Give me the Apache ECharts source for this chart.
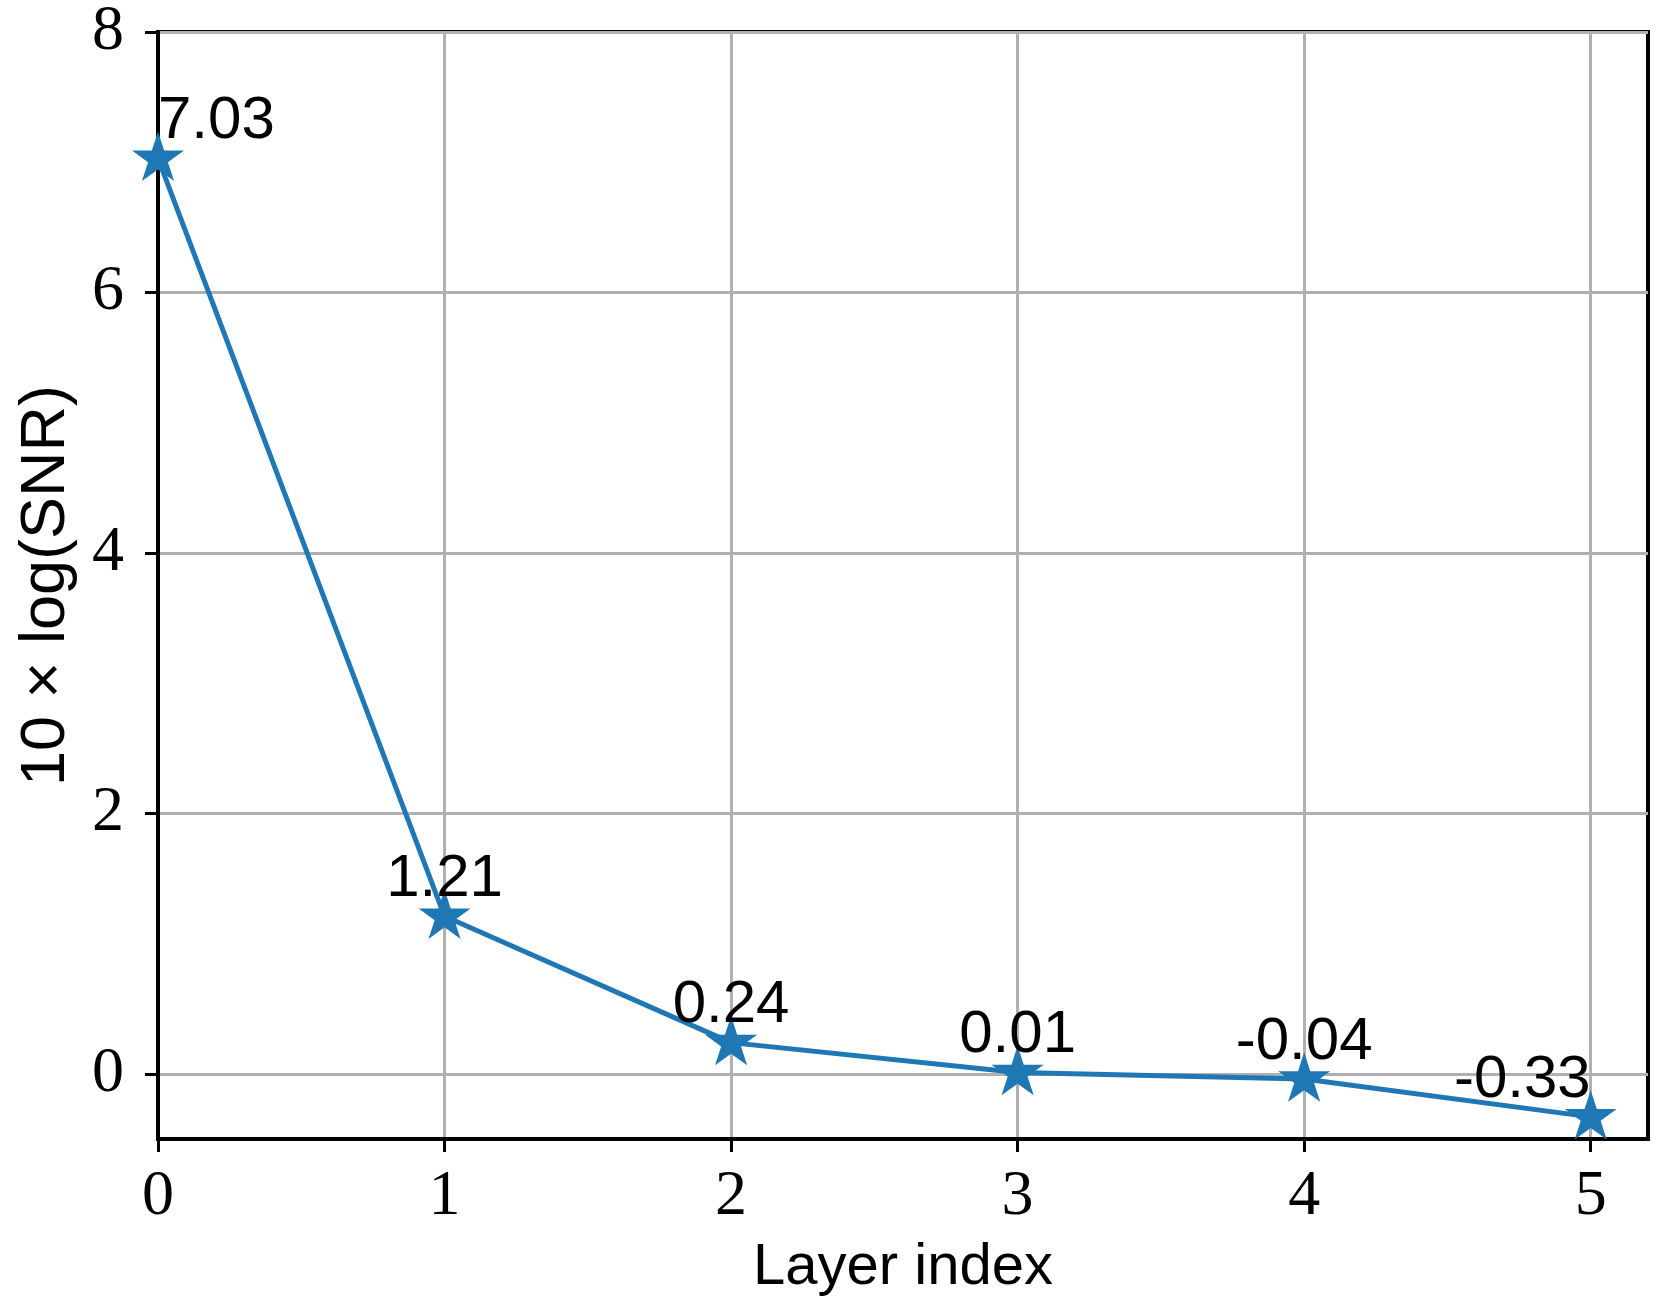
<!DOCTYPE html>
<html>
<head>
<meta charset="utf-8">
<script src="https://cdn.jsdelivr.net/npm/echarts@6/dist/echarts.min.js"></script>
<style>
html,body{margin:0;padding:0;background:#fff;}
#chart{width:1660px;height:1304px;}
</style>
</head>
<body>
<div id="chart"></div>
<script>
const layers = [0, 1, 2, 3, 4, 5];
const snr = [7.03, 1.21, 0.24, 0.01, -0.04, -0.33];
const xTicks = [0, 1, 2, 3, 4, 5];
const yTicks = [0, 2, 4, 6, 8];
const xName = 'Layer index';
const yName = '10 \u00d7 log(SNR)';

const STAR = 'path://M100,0 L122.45,69.1 L195.11,69.1 L136.33,111.8 L158.78,180.9 L100,138.2 L41.22,180.9 L63.67,111.8 L4.89,69.1 L77.55,69.1 Z';

const seriesData = layers.map((x, i) => {
  const item = { value: [x, snr[i]] };
  if (i === 0) item.label = { align: 'left' };
  if (i === layers.length - 1) item.label = { align: 'right' };
  return item;
});

const tickFont = { fontFamily: 'Liberation Serif', fontSize: 64, color: '#000' };
const chart = echarts.init(document.getElementById('chart'), null, { renderer: 'canvas' });
chart.setOption({
  animation: false,
  backgroundColor: '#fff',
  grid: {
    left: 158, top: 28, right: 12, bottom: 165,
    show: true, borderColor: '#000', borderWidth: 4, backgroundColor: 'transparent'
  },
  xAxis: {
    type: 'value', min: 0, max: 5.2,
    name: xName, nameLocation: 'middle', nameGap: 100,
    nameTextStyle: { fontFamily: 'Liberation Sans', fontSize: 58, color: '#000' },
    axisLine: { show: true, onZero: false, lineStyle: { color: '#000', width: 4 } },
    axisTick: { show: true, inside: false, length: 13, customValues: xTicks, lineStyle: { color: '#000', width: 3 } },
    axisLabel: Object.assign({ margin: 26, customValues: xTicks, showMaxLabel: true }, tickFont),
    splitLine: { show: true, lineStyle: { color: '#b0b0b0', width: 3 } }
  },
  yAxis: {
    type: 'value', min: -0.5, max: 8,
    name: yName, nameLocation: 'middle', nameGap: 80, nameRotate: 90,
    nameTextStyle: { fontFamily: 'Liberation Sans', fontSize: 63, color: '#000' },
    axisLine: { show: true, onZero: false, lineStyle: { color: '#000', width: 4 } },
    axisTick: { show: true, inside: false, length: 13, customValues: yTicks, lineStyle: { color: '#000', width: 3 } },
    axisLabel: Object.assign({ margin: 34, customValues: yTicks }, tickFont),
    splitLine: { show: true, lineStyle: { color: '#b0b0b0', width: 3 } }
  },
  series: [{
    type: 'line',
    data: seriesData,
    clip: true,
    symbol: STAR,
    symbolSize: 52,
    symbolKeepAspect: true,
    symbolOffset: [0, -2],
    showAllSymbol: true,
    lineStyle: { color: '#1f77b4', width: 5 },
    itemStyle: { color: '#1f77b4' },
    z: 3,
    label: {
      show: true, position: 'top', distance: -20,
      fontFamily: 'Liberation Sans', fontSize: 60, color: '#000',
      formatter: p => p.value[1].toFixed(2)
    }
  }]
});
</script>
</body>
</html>
